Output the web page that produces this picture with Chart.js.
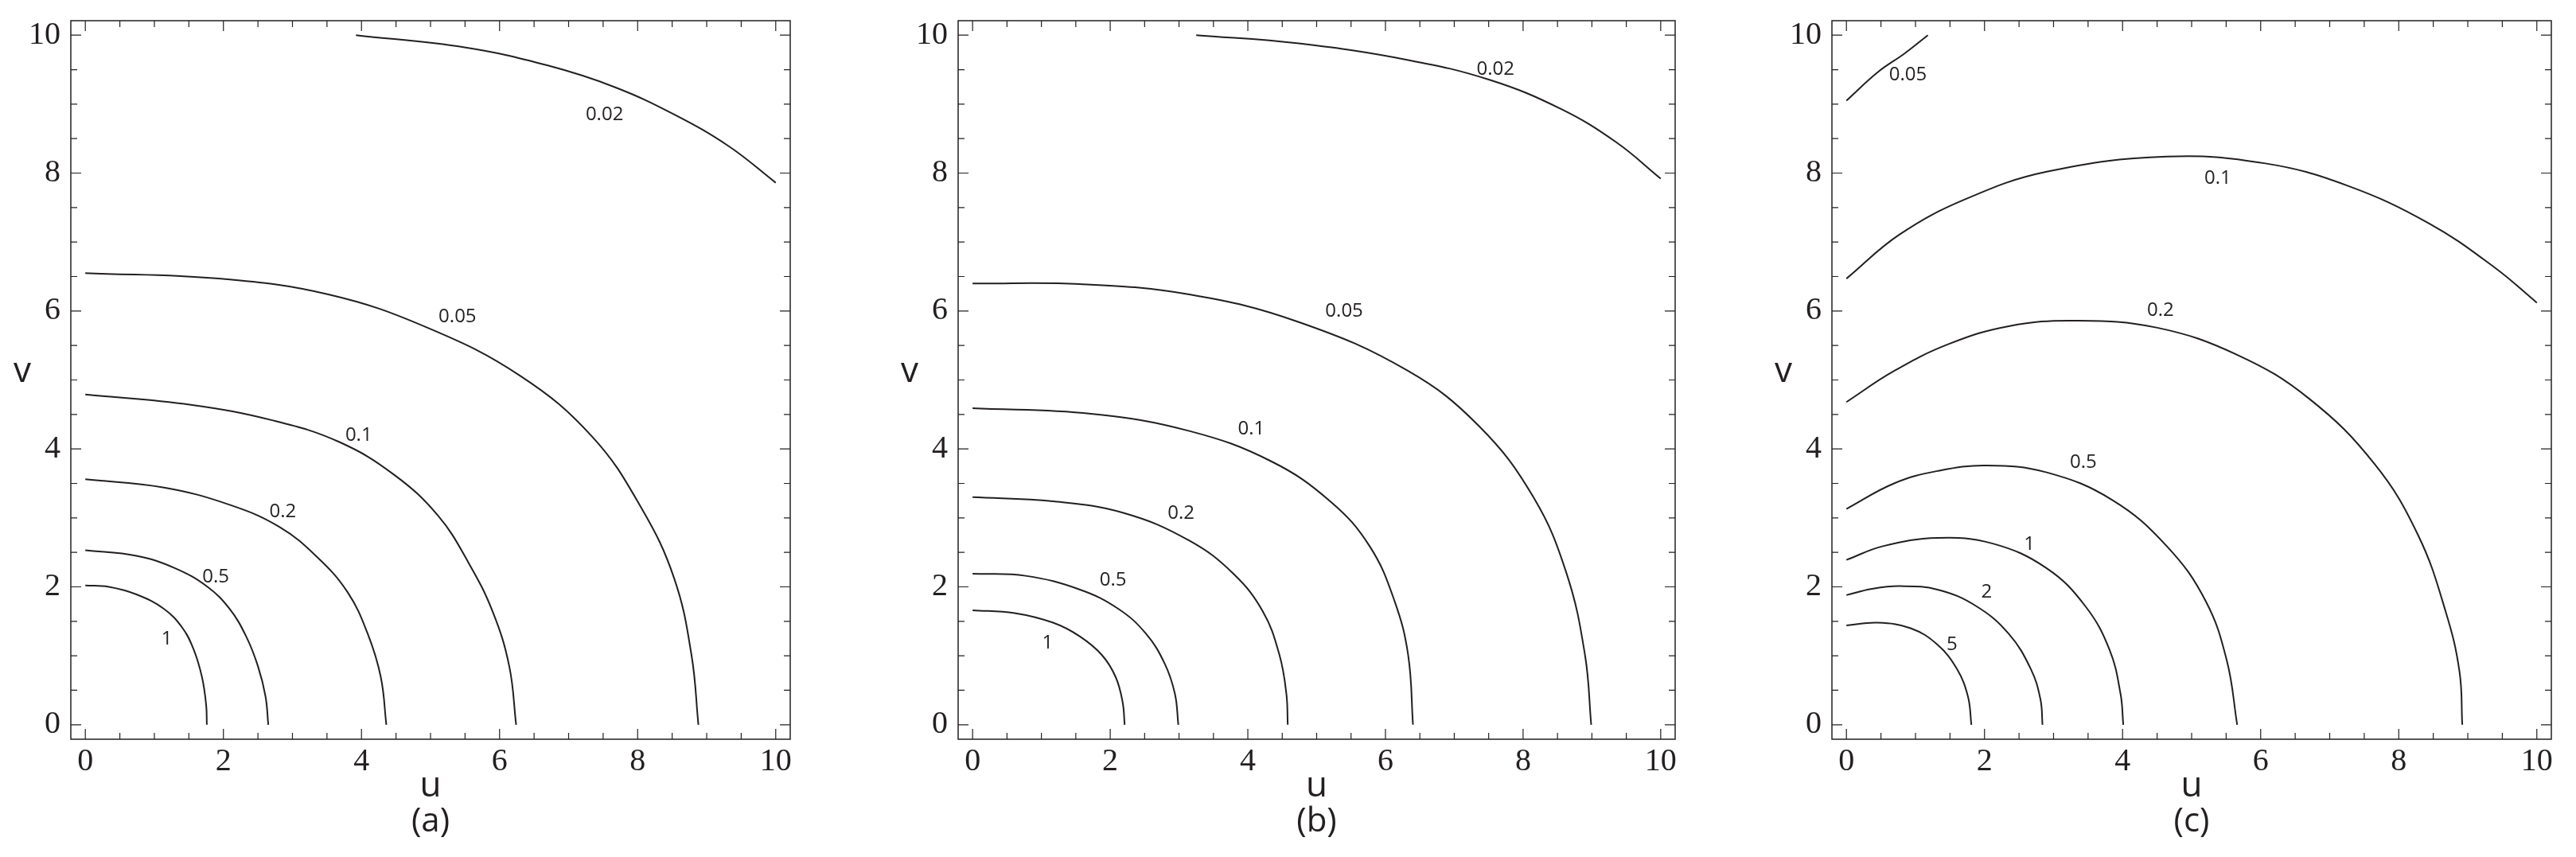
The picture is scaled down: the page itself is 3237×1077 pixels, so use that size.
<!DOCTYPE html>
<html>
<head>
<meta charset="utf-8">
<script src="https://cdn.jsdelivr.net/npm/chart.js@4.4.0/dist/chart.umd.min.js"></script>
<style>
  html, body { margin: 0; padding: 0; background: #fff; }
  body { width: 3237px; height: 1077px; position: relative; overflow: hidden; }
  .panel { position: absolute; top: 0; height: 1077px; }
</style>
</head>
<body>
<div class="panel" style="left:0;width:1000px"><canvas id="chartA"></canvas></div>
<div class="panel" style="left:1115px;width:997px"><canvas id="chartB"></canvas></div>
<div class="panel" style="left:2213px;width:1000px"><canvas id="chartC"></canvas></div>
<script>
// tick labels, same on every panel
var uTicks = [0, 2, 4, 6, 8, 10];
var vTicks = [0, 2, 4, 6, 8, 10];

// panel (a): contour levels, curve points, label spots
var aLevels = ['0.02', '0.05', '0.1', '0.2', '0.5', '1'];
var aU = [
    [3.92, 5.51, 6.70, 7.66, 8.53, 9.32, 10.0],
    [0, 1.93, 3.52, 4.95, 6.30, 7.34, 8.05, 8.53, 8.78, 8.88],
    [0, 1.53, 2.73, 3.68, 4.48, 5.11, 5.55, 5.90, 6.14, 6.24],
    [0, 1.14, 2.09, 2.81, 3.36, 3.80, 4.09, 4.28, 4.36],
    [0, 0.74, 1.30, 1.77, 2.09, 2.33, 2.50, 2.61, 2.65],
    [0, 0.34, 0.74, 1.14, 1.41, 1.57, 1.69, 1.75, 1.76]
];
var aV = [
    [10.0, 9.82, 9.56, 9.25, 8.85, 8.39, 7.86],
    [6.55, 6.47, 6.24, 5.76, 5.06, 4.18, 3.15, 2.12, 1.01, 0],
    [4.79, 4.64, 4.41, 4.10, 3.62, 3.03, 2.35, 1.64, 0.85, 0],
    [3.56, 3.44, 3.19, 2.87, 2.43, 1.92, 1.32, 0.69, 0],
    [2.53, 2.45, 2.27, 2.00, 1.68, 1.28, 0.85, 0.41, 0],
    [2.02, 2.00, 1.89, 1.68, 1.40, 1.09, 0.69, 0.29, 0]
];
var aLabelU = [7.52, 5.39, 3.96, 2.86, 1.89, 1.18];
var aLabelV = [8.85, 5.92, 4.20, 3.09, 2.14, 1.24];

// panel (b)
var bLevels = ['0.02', '0.05', '0.1', '0.2', '0.5', '1'];
var bU = [
    [3.25, 4.74, 6.33, 7.52, 8.55, 9.35, 10.0],
    [0, 1.56, 3.15, 4.74, 6.33, 7.36, 8.15, 8.63, 8.90, 8.99],
    [0, 1.72, 3.15, 4.34, 5.21, 5.77, 6.13, 6.33, 6.40],
    [0, 1.17, 2.20, 3.15, 3.79, 4.22, 4.46, 4.56, 4.58],
    [0, 0.77, 1.56, 2.12, 2.52, 2.79, 2.94, 2.99],
    [0, 0.61, 1.17, 1.56, 1.88, 2.08, 2.18, 2.21]
];
var bV = [
    [10.0, 9.88, 9.64, 9.35, 8.93, 8.45, 7.92],
    [6.40, 6.39, 6.24, 5.84, 5.13, 4.33, 3.30, 2.20, 1.01, 0],
    [4.59, 4.51, 4.26, 3.82, 3.23, 2.59, 1.80, 1.01, 0],
    [3.30, 3.24, 3.07, 2.67, 2.19, 1.64, 1.01, 0.45, 0],
    [2.19, 2.16, 1.96, 1.68, 1.32, 0.89, 0.45, 0],
    [1.66, 1.62, 1.48, 1.28, 1.01, 0.69, 0.33, 0]
];
var bLabelU = [7.60, 5.40, 4.05, 3.03, 2.04, 1.09];
var bLabelV = [9.50, 6.00, 4.29, 3.07, 2.10, 1.18];

// panel (c)
var cLevels = ['0.05', '0.1', '0.2', '0.5', '1', '2', '5'];
var cU = [
    [0, 0.45, 0.85, 1.18],
    [0, 0.77, 1.72, 2.90, 4.64, 6.07, 7.25, 8.44, 9.39, 10.0],
    [0, 0.69, 1.48, 2.35, 3.30, 4.49, 5.67, 6.70, 7.65, 8.28, 8.68, 8.88, 8.92],
    [0, 0.69, 1.32, 2.03, 2.90, 3.85, 4.64, 5.20, 5.51, 5.66],
    [0, 0.53, 1.32, 2.11, 2.90, 3.46, 3.81, 3.97, 4.01],
    [0, 0.37, 0.77, 1.32, 1.88, 2.35, 2.67, 2.81, 2.84],
    [0, 0.45, 0.93, 1.32, 1.60, 1.76, 1.81]
];
var cV = [
    [9.05, 9.46, 9.74, 10.0],
    [6.47, 7.11, 7.62, 8.02, 8.24, 8.14, 7.82, 7.27, 6.63, 6.12],
    [4.68, 5.13, 5.52, 5.78, 5.86, 5.76, 5.36, 4.73, 3.78, 2.75, 1.64, 0.77, 0],
    [3.13, 3.50, 3.68, 3.76, 3.66, 3.26, 2.59, 1.80, 0.93, 0],
    [2.39, 2.59, 2.71, 2.63, 2.27, 1.72, 1.09, 0.45, 0],
    [1.88, 1.97, 2.01, 1.96, 1.72, 1.32, 0.81, 0.37, 0],
    [1.44, 1.48, 1.40, 1.16, 0.81, 0.41, 0]
];
var cLabelU = [0.89, 5.38, 4.55, 3.43, 2.65, 2.03, 1.53];
var cLabelV = [9.42, 7.92, 6.01, 3.80, 2.61, 1.92, 1.16];

var INK = '#231f20';
var SERIF = "'Liberation Serif', 'DejaVu Serif', serif";
var SANS = "'Open Sans', 'Noto Sans', sans-serif";

function makeChart(id, tag, levels, us, vs, labelU, labelV) {
    var datasets = levels.map(function (lev, i) {
        return {
            label: lev,
            data: us[i].map(function (u, j) { return {x: u, y: vs[i][j]}; }),
            showLine: true,
            pointRadius: 0,
            borderColor: INK,
            borderWidth: 2,
            tension: 0.4,
            fill: false
        };
    });

    // frame, inward ticks on all four sides, contour labels and titles
    var framePlugin = {
        id: 'frame',
        afterDraw: function (chart) {
            var ctx = chart.ctx;
            var area = chart.chartArea;
            var xs = chart.scales.x;
            var ys = chart.scales.y;
            ctx.save();
            ctx.strokeStyle = INK;
            ctx.lineWidth = 1.5;
            ctx.strokeRect(area.left, area.top, area.right - area.left, area.bottom - area.top);
            ctx.lineWidth = 1.2;
            for (var t = 0; t <= 10; t += 0.5) {
                var len = uTicks.indexOf(t) >= 0 ? 13 : 8;
                var px = xs.getPixelForValue(t);
                var py = ys.getPixelForValue(t);
                ctx.beginPath();
                ctx.moveTo(px, area.bottom); ctx.lineTo(px, area.bottom - len);
                ctx.moveTo(px, area.top); ctx.lineTo(px, area.top + len);
                ctx.moveTo(area.left, py); ctx.lineTo(area.left + len, py);
                ctx.moveTo(area.right, py); ctx.lineTo(area.right - len, py);
                ctx.stroke();
            }

            ctx.fillStyle = INK;
            ctx.textAlign = 'center';
            ctx.textBaseline = 'middle';
            ctx.font = '24px ' + SANS;
            levels.forEach(function (lev, i) {
                ctx.fillText(lev, xs.getPixelForValue(labelU[i]), ys.getPixelForValue(labelV[i]));
            });

            var cx = (area.left + area.right) / 2;
            ctx.textBaseline = 'alphabetic';
            ctx.font = '44px ' + SANS;
            ctx.fillText('u', cx, area.bottom + 72);
            ctx.fillText('v', area.left - 61, area.top + 454);
            ctx.font = '42px ' + SANS;
            ctx.fillText(tag, cx, area.bottom + 116);
            ctx.restore();
        }
    };

    var tickFont = {family: SERIF, size: 40};

    return new Chart(document.getElementById(id).getContext('2d'), {
        type: 'scatter',
        data: {datasets: datasets},
        options: {
            responsive: true,
            maintainAspectRatio: false,
            animation: false,
            events: [],
            layout: {padding: {top: 26, right: 7, bottom: 0, left: 0}},
            plugins: {
                legend: {display: false},
                tooltip: {enabled: false}
            },
            scales: {
                x: {
                    type: 'linear',
                    min: -0.21,
                    max: 10.21,
                    grid: {display: false, drawTicks: false},
                    border: {display: false},
                    ticks: {font: tickFont, color: INK, padding: 4, maxRotation: 0},
                    afterBuildTicks: function (s) {
                        s.ticks = uTicks.map(function (v) { return {value: v}; });
                    },
                    afterFit: function (s) {
                        s.height = 148;
                        s.paddingLeft = 0;
                        s.paddingRight = 0;
                    }
                },
                y: {
                    type: 'linear',
                    min: -0.21,
                    max: 10.21,
                    grid: {display: false, drawTicks: false},
                    border: {display: false},
                    ticks: {font: tickFont, color: INK, padding: 13},
                    afterBuildTicks: function (s) {
                        s.ticks = vTicks.map(function (v) { return {value: v}; });
                    },
                    afterFit: function (s) {
                        s.width = 89;
                        s.paddingTop = 0;
                        s.paddingBottom = 0;
                    }
                }
            }
        },
        plugins: [framePlugin]
    });
}

makeChart('chartA', '(a)', aLevels, aU, aV, aLabelU, aLabelV);
makeChart('chartB', '(b)', bLevels, bU, bV, bLabelU, bLabelV);
makeChart('chartC', '(c)', cLevels, cU, cV, cLabelU, cLabelV);
</script>
</body>
</html>
